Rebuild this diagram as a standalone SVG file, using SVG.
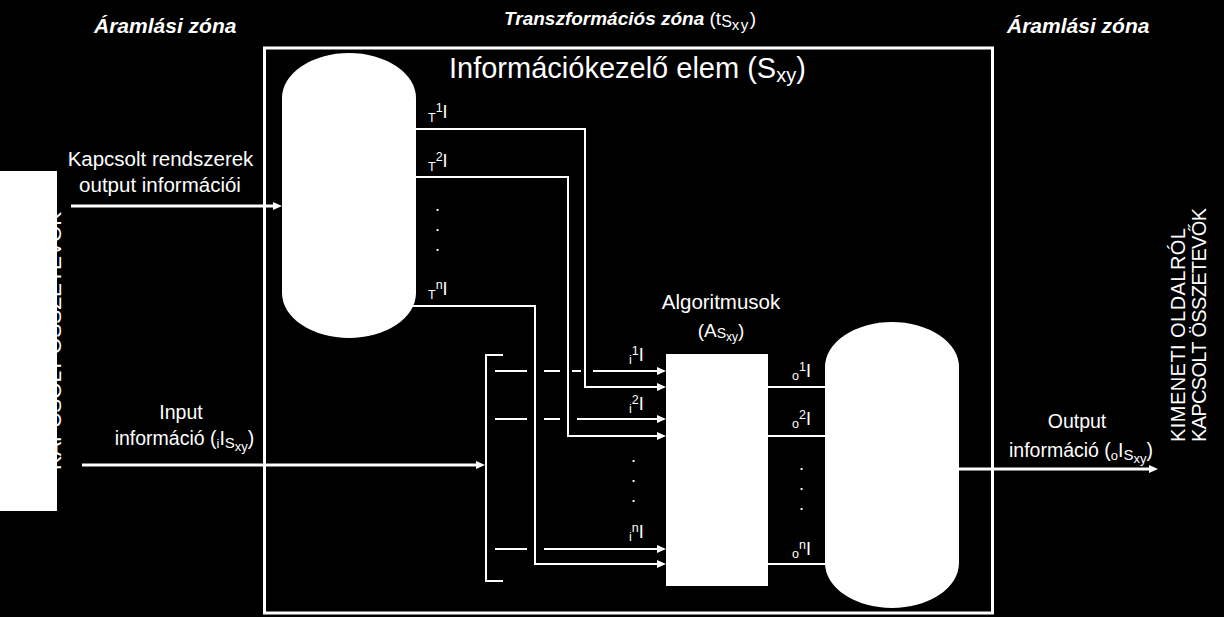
<svg xmlns="http://www.w3.org/2000/svg" width="1224" height="617" viewBox="0 0 1224 617">
<style>
.t{font-family:"Liberation Sans",Arial,sans-serif;fill:#fff}
.bi{font-weight:bold;font-style:italic}
.c{stroke:#fff;stroke-width:2;fill:none}
.cw{stroke:#fff;stroke-width:3;fill:none}
.wf{fill:#fff;stroke:none}
.lb{font-size:18px}
.s{font-size:12.5px}
</style>
<defs>
<marker id="ah" markerWidth="10" markerHeight="8" refX="1" refY="4" orient="auto" markerUnits="userSpaceOnUse"><path d="M0,0 L9,4 L0,8 Z" fill="#fff"/></marker>
</defs>
<rect width="1224" height="617" fill="#000"/>

<g id="left-panel">
<text class="t" font-size="21" transform="translate(61,470) rotate(-90)">KAPCSOLT ÖSSZETEVŐK</text>
<rect class="wf" x="0" y="171" width="57" height="340"/>
</g>

<g id="zone-labels">
<text class="t bi" x="94" y="33" font-size="21">Áramlási zóna</text>
<text class="t bi" x="1007" y="33" font-size="21">Áramlási zóna</text>
<text class="t" x="504" y="25" font-size="19"><tspan class="bi">Transzformációs zóna</tspan> (t<tspan font-size="16" dy="2">S</tspan><tspan font-size="15" dy="3" letter-spacing="1.5">xy</tspan><tspan dy="-5">)</tspan></text>
</g>

<g id="frame">
<rect class="cw" x="264.5" y="48" width="728" height="565"/>
<text class="t" x="449" y="78" font-size="29">Információkezelő elem (S<tspan font-size="20" dy="4">xy</tspan><tspan dy="-4">)</tspan></text>
</g>

<g id="connectors">
<path class="cw" d="M71,206 H274" marker-end="url(#ah)"/>
<path class="cw" d="M82,465 H477" marker-end="url(#ah)"/>
<path class="c" d="M503,355 H486 V581 H503"/>
<path class="c" d="M495,371 H527 M544,371 H560 M572,371 H581"/>
<path class="c" d="M593,371 H658" marker-end="url(#ah)"/>
<path class="c" d="M495,419 H527 M544,419 H560"/>
<path class="c" d="M577,419 H658" marker-end="url(#ah)"/>
<path class="c" d="M495,549 H527"/>
<path class="c" d="M544,549 H658" marker-end="url(#ah)"/>
<path class="c" d="M410,129 H585 V387 H658" marker-end="url(#ah)"/>
<path class="c" d="M410,177 H568 V436 H658" marker-end="url(#ah)"/>
<path class="c" d="M408,306 H535 V564 H658" marker-end="url(#ah)"/>
<path class="c" d="M768,387 H830 M768,436 H830 M768,564 H830"/>
<path class="cw" d="M955,469 H1150" marker-end="url(#ah)"/>
</g>

<g id="store-T">
<path class="wf" d="M282,98 A67,45 0 0 1 416,98 L416,293 A67,45 0 0 1 282,293 Z"/>
</g>

<g id="store-O">
<path class="wf" d="M825,367 A67,45 0 0 1 959,367 L959,563 A67,45 0 0 1 825,563 Z"/>
</g>

<g id="algorithms">
<rect class="wf" x="666" y="354" width="102" height="232"/>
<text class="t" x="721" y="309" font-size="20.5" text-anchor="middle">Algoritmusok</text>
<text class="t" x="721" y="337" font-size="19" text-anchor="middle">(A<tspan font-size="14" dy="1">S</tspan><tspan font-size="12" dy="3">xy</tspan><tspan dy="-4">)</tspan></text>
</g>

<g id="labels-T">
<text class="t lb" x="428" y="118"><tspan class="s" dy="4">T</tspan><tspan class="s" dy="-10">1</tspan><tspan dy="6">I</tspan></text>
<text class="t lb" x="428" y="167"><tspan class="s" dy="4">T</tspan><tspan class="s" dy="-10">2</tspan><tspan dy="6">I</tspan></text>
<text class="t lb" x="435" y="211">.</text>
<text class="t lb" x="435" y="231">.</text>
<text class="t lb" x="435" y="251">.</text>
<text class="t lb" x="428" y="295"><tspan class="s" dy="4">T</tspan><tspan class="s" dy="-10">n</tspan><tspan dy="6">I</tspan></text>
</g>

<g id="labels-i">
<text class="t lb" x="629" y="361"><tspan class="s" dy="3">i</tspan><tspan class="s" dy="-9">1</tspan><tspan dy="6">I</tspan></text>
<text class="t lb" x="629" y="410"><tspan class="s" dy="3">i</tspan><tspan class="s" dy="-9">2</tspan><tspan dy="6">I</tspan></text>
<text class="t lb" x="631" y="462">.</text>
<text class="t lb" x="631" y="482">.</text>
<text class="t lb" x="631" y="502">.</text>
<text class="t lb" x="629" y="538"><tspan class="s" dy="3">i</tspan><tspan class="s" dy="-9">n</tspan><tspan dy="6">I</tspan></text>
</g>

<g id="labels-o">
<text class="t lb" x="792" y="377"><tspan class="s" dy="3">o</tspan><tspan class="s" dy="-9">1</tspan><tspan dy="6">I</tspan></text>
<text class="t lb" x="792" y="425"><tspan class="s" dy="3">o</tspan><tspan class="s" dy="-9">2</tspan><tspan dy="6">I</tspan></text>
<text class="t lb" x="799" y="470">.</text>
<text class="t lb" x="799" y="490">.</text>
<text class="t lb" x="799" y="510">.</text>
<text class="t lb" x="792" y="555"><tspan class="s" dy="3">o</tspan><tspan class="s" dy="-9">n</tspan><tspan dy="6">I</tspan></text>
</g>

<g id="input-label">
<text class="t" x="160.5" y="166" font-size="20.5" text-anchor="middle">Kapcsolt rendszerek</text>
<text class="t" x="160" y="192" font-size="20.5" text-anchor="middle">output információi</text>
<text class="t" x="181" y="419" font-size="19.5" text-anchor="middle">Input</text>
<text class="t" x="184.5" y="445" font-size="19.5" text-anchor="middle">információ (<tspan font-size="13" dy="3">i</tspan><tspan dy="-3">I</tspan><tspan font-size="15" dy="3">S</tspan><tspan font-size="13" dy="3">xy</tspan><tspan dy="-6">)</tspan></text>
</g>

<g id="output-label">
<text class="t" x="1077" y="428" font-size="19.5" text-anchor="middle">Output</text>
<text class="t" x="1081" y="457" font-size="19.5" text-anchor="middle">információ (<tspan font-size="13" dy="3">o</tspan><tspan dy="-3">I</tspan><tspan font-size="15" dy="3">S</tspan><tspan font-size="13" dy="3">xy</tspan><tspan dy="-6">)</tspan></text>
<text class="t" font-size="20" textLength="214" lengthAdjust="spacing" transform="translate(1185,442) rotate(-90)">KIMENETI OLDALRÓL</text>
<text class="t" font-size="20" textLength="234" lengthAdjust="spacing" transform="translate(1206,442) rotate(-90)">KAPCSOLT ÖSSZETEVŐK</text>
</g>
</svg>
